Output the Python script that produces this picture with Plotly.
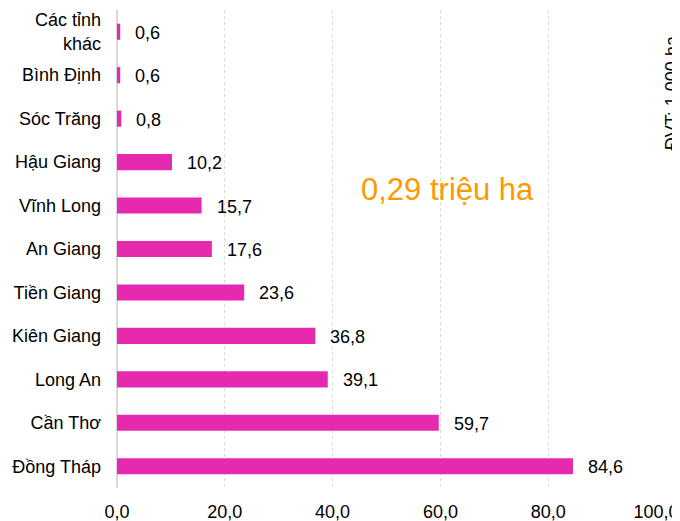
import plotly.graph_objects as go

provinces = ["Đồng Tháp", "Cần Thơ", "Long An", "Kiên Giang", "Tiền Giang", "An Giang",
             "Vĩnh Long", "Hậu Giang", "Sóc Trăng", "Bình Định", "Các tỉnh<br>khác"]
values = [84.6, 59.7, 39.1, 36.8, 23.6, 17.6, 15.7, 10.2, 0.8, 0.6, 0.6]
labels = ["84,6", "59,7", "39,1", "36,8", "23,6", "17,6", "15,7", "10,2", "0,8", "0,6", "0,6"]
x_ticks = [0, 20, 40, 60, 80, 100]
x_ticktext = ["0,0", "20,0", "40,0", "60,0", "80,0", "100,0"]

FONT = "Liberation Sans, Arial, sans-serif"

fig = go.Figure()
fig.add_trace(go.Bar(
    y=provinces, x=values, orientation="h",
    marker=dict(color="#E62AAF", line=dict(width=0)),
    width=0.37, hoverinfo="skip",
))

for p, v, t in zip(provinces, values, labels):
    fig.add_annotation(x=v, y=p, text=t, showarrow=False, xanchor="left",
                       xshift=13, yshift=-1, font=dict(family=FONT, size=18, color="#000000"))

fig.add_annotation(xref="paper", yref="paper", x=0.614, y=0.625, text="0,29 triệu ha",
                   showarrow=False, font=dict(family=FONT, size=31, color="#FF9900"))
fig.add_annotation(xref="paper", yref="paper", x=1.0, y=0.826, text="ĐVT: 1.000 ha",
                   textangle=-90, showarrow=False, xanchor="center", yanchor="middle",
                   xshift=16,
                   font=dict(family=FONT, size=18, color="#000000"))

# page body has an 8px margin: shrink the figure so the plot lands where the reference has it
fig.update_layout(
    width=672, height=513,
    margin=dict(l=109, r=24, t=2, b=33),
    paper_bgcolor="white", plot_bgcolor="white",
    showlegend=False,
    font=dict(family=FONT, size=18, color="#000000"),
    xaxis=dict(range=[0, 100], tickvals=x_ticks, ticktext=x_ticktext,
               showgrid=True, gridcolor="#d9d9d9", griddash="dot", gridwidth=1,
               zeroline=True, zerolinecolor="#d9d9d9", zerolinewidth=2,
               ticklabelstandoff=11, tickfont=dict(size=18), automargin=False,
               fixedrange=True),
    yaxis=dict(categoryorder="array", categoryarray=provinces, range=[-0.5, 10.5],
               showgrid=False, ticklabelstandoff=15, tickfont=dict(size=18),
               automargin=False, fixedrange=True),
)

fig.write_html("out.html")
